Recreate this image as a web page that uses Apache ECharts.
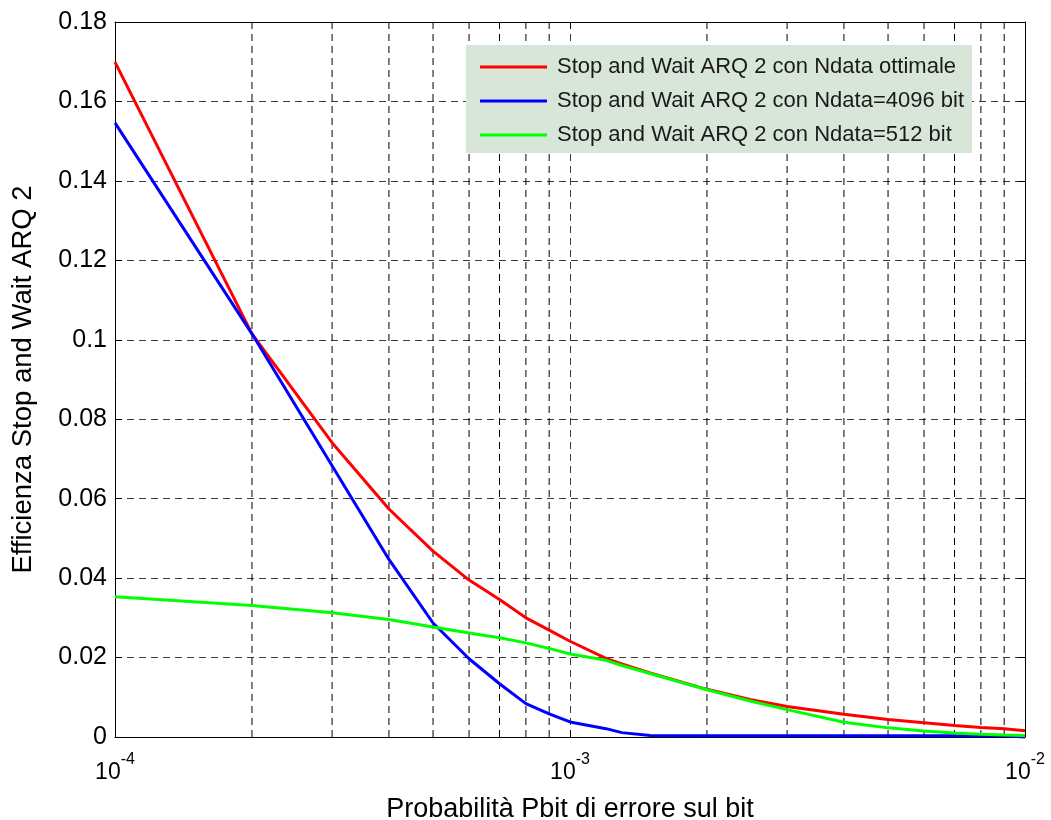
<!DOCTYPE html>
<html>
<head>
<meta charset="utf-8">
<title>Efficienza Stop and Wait ARQ 2</title>
<script src="https://cdn.jsdelivr.net/npm/echarts@6.0.0/dist/echarts.min.js"></script>
<style>
  html, body { margin: 0; padding: 0; background: #fff; }
  #chart { width: 1051px; height: 820px; }
</style>
</head>
<body>
<div id="chart"></div>
<script>
// valori
const pbit = [0.0001, 0.0002, 0.0003, 0.0004, 0.0005, 0.0006, 0.0007, 0.0008, 0.0009, 0.001,
  0.0012, 0.0013, 0.0015, 0.002, 0.0025, 0.003, 0.004, 0.005, 0.006, 0.007, 0.008, 0.009, 0.01]
const effOttimale = [0.1699, 0.1015, 0.0741, 0.0574, 0.0468, 0.0395, 0.0346, 0.0300, 0.0269, 0.0241,
  0.0198, 0.0184, 0.0161, 0.0120, 0.0094, 0.0077, 0.0057, 0.0044, 0.0036, 0.0029, 0.0024, 0.0021, 0.0016]
const eff4096 = [0.1546, 0.1015, 0.0683, 0.0447, 0.0287, 0.0197, 0.0134, 0.0084, 0.0058, 0.0038,
  0.0021, 0.0011, 0.0004, 0.0003, 0.0003, 0.0003, 0.0003, 0.0003, 0.0003, 0.0003, 0.0003, 0.0003, 0]
const eff512 = [0.0353, 0.0331, 0.0313, 0.0296, 0.0277, 0.0262, 0.0250, 0.0237, 0.0223, 0.0209,
  0.0193, 0.0180, 0.0160, 0.0119, 0.0090, 0.0069, 0.0037, 0.0023, 0.0015, 0.0010, 0.0007, 0.0005, 0.0004]

const seriesNames = [
  'Stop and Wait ARQ 2 con Ndata ottimale',
  'Stop and Wait ARQ 2 con Ndata=4096 bit',
  'Stop and Wait ARQ 2 con Ndata=512 bit',
]
const seriesColors = ['#ff0000', '#0000ff', '#00ff00']

// griglia: decadi e linee secondarie (2..9 per decade)
const xMin = 0.0001
const xMax = 0.01
const xMinorGrid = [0.0002, 0.0003, 0.0004, 0.0005, 0.0006, 0.0007, 0.0008, 0.0009,
  0.002, 0.003, 0.004, 0.005, 0.006, 0.007, 0.008, 0.009]
const yMin = 0
const yMax = 0.18
const yStep = 0.02

const FONT = '"Liberation Sans", Arial, sans-serif'
const gridDash = { type: [7, 5], color: '#3a3a3a', width: 1 }

const chart = echarts.init(document.getElementById('chart'))

const toPairs = (ys) => pbit.map((x, i) => [x, ys[i]])

const mainSeries = [effOttimale, eff4096, eff512].map((ys, i) => ({
  name: seriesNames[i],
  type: 'line',
  data: toPairs(ys),
  showSymbol: false,
  symbol: 'none',
  clip: false,
  z: 3,
  lineStyle: { color: seriesColors[i], width: 3 },
  itemStyle: { color: seriesColors[i] },
  emphasis: { disabled: true },
}))

// linee verticali secondarie della griglia logaritmica
const minorGridSeries = xMinorGrid.map((v) => ({
  name: 'griglia',
  type: 'line',
  data: [[v, yMin], [v, yMax]],
  showSymbol: false,
  symbol: 'none',
  silent: true,
  z: 1,
  lineStyle: { type: [7, 5], color: '#000', width: 1 },
  emphasis: { disabled: true },
}))

const option = {
  animation: false,
  backgroundColor: '#ffffff',
  textStyle: { fontFamily: FONT },
  grid: { left: 115, right: 26, top: 22, bottom: 83, outerBoundsMode: 'none', containLabel: false },
  legend: {
    data: seriesNames,
    orient: 'vertical',
    left: 466,
    top: 45,
    padding: [11, 8, 7, 14],
    itemGap: 12,
    itemWidth: 67,
    itemHeight: 3,
    icon: 'rect',
    selectedMode: false,
    backgroundColor: '#d8e6da',
    textStyle: { fontSize: 22, lineHeight: 22, color: '#1a1a1a', fontFamily: FONT, padding: [0, 0, 0, 5] },
  },
  xAxis: [
    {
      type: 'log',
      logBase: 10,
      min: xMin,
      max: xMax,
      position: 'bottom',
      name: 'Probabilità Pbit di errore sul bit',
      nameLocation: 'middle',
      nameGap: 59,
      nameTextStyle: { fontSize: 27, color: '#000', fontFamily: FONT },
      axisLine: { show: true, onZero: false, lineStyle: { color: '#000', width: 1 } },
      axisTick: { show: true, inside: true, length: 7, lineStyle: { color: '#000' } },
      axisLabel: {
        margin: 19,
        showMinLabel: true,
        showMaxLabel: true,
        formatter: (v) => '{a|10}{b|' + Math.round(Math.log10(v)) + '}',
        rich: {
          a: { fontSize: 23, lineHeight: 28, verticalAlign: 'bottom', color: '#000', fontFamily: FONT },
          b: { fontSize: 16, lineHeight: 18, padding: [0, 0, 16, 0], verticalAlign: 'bottom', color: '#000', fontFamily: FONT },
        },
      },
      splitLine: { show: true, lineStyle: gridDash },
    },
    {
      type: 'log',
      logBase: 10,
      min: xMin,
      max: xMax,
      position: 'top',
      axisLine: { show: true, onZero: false, lineStyle: { color: '#000', width: 1 } },
      axisTick: { show: true, inside: true, length: 7, lineStyle: { color: '#000' } },
      axisLabel: { show: false },
      splitLine: { show: false },
    },
  ],
  yAxis: [
    {
      type: 'value',
      min: yMin,
      max: yMax,
      interval: yStep,
      position: 'left',
      name: 'Efficienza Stop and Wait ARQ 2',
      nameLocation: 'middle',
      nameGap: 78,
      nameTextStyle: { fontSize: 27.5, color: '#000', fontFamily: FONT },
      axisLine: { show: true, onZero: false, lineStyle: { color: '#000', width: 1 } },
      axisTick: { show: true, inside: true, length: 7, lineStyle: { color: '#000' } },
      axisLabel: { fontSize: 25, color: '#000', margin: 8, fontFamily: FONT },
      splitLine: { show: true, lineStyle: gridDash },
    },
    {
      type: 'value',
      min: yMin,
      max: yMax,
      interval: yStep,
      position: 'right',
      axisLine: { show: true, onZero: false, lineStyle: { color: '#000', width: 1 } },
      axisTick: { show: true, inside: true, length: 7, lineStyle: { color: '#000' } },
      axisLabel: { show: false },
      splitLine: { show: false },
    },
  ],
  series: [...minorGridSeries, ...mainSeries],
}

chart.setOption(option)
</script>
</body>
</html>
